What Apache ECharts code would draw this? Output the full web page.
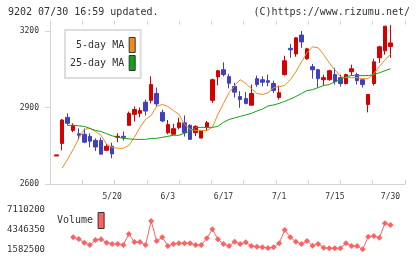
<!DOCTYPE html>
<html>
<head>
<meta charset="utf-8">
<title>9202</title>
<script src="https://cdn.jsdelivr.net/npm/echarts@6.0.0/dist/echarts.min.js"></script>
<style>
html, body { margin: 0; padding: 0; background: #fff; }
#main { width: 420px; height: 259px; }
</style>
</head>
<body>
<div id="main"></div>
<script>
// trading days
var dates = ['5/2','5/7','5/8','5/9','5/12','5/13','5/14','5/15','5/16','5/19',
  '5/20','5/21','5/22','5/23','5/26','5/27','5/28','5/29','5/30','6/2',
  '6/3','6/4','6/5','6/6','6/9','6/10','6/11','6/12','6/13','6/16',
  '6/17','6/18','6/19','6/20','6/23','6/24','6/25','6/26','6/27','6/30',
  '7/1','7/2','7/3','7/4','7/7','7/8','7/9','7/10','7/11','7/14',
  '7/15','7/16','7/17','7/18','7/22','7/23','7/24','7/25','7/28','7/29',
  '7/30'];
var dateTicks = ['5/20', '6/3', '6/17', '7/1', '7/15', '7/30'];

var opens = [2710,2759,2861,2810,2797,2795,2787,2771,2771,2732,
  2748,2783,2787,2830,2873,2877,2921,2928,2955,2881,
  2801,2795,2821,2840,2830,2801,2780,2823,2928,3020,
  3048,3021,2983,2943,2935,2909,3013,3009,3005,2994,
  2939,3029,3132,3110,3184,3091,3060,3048,3009,3009,
  3029,3017,2994,3040,3029,3009,2912,2994,3095,3122,
  3139];
var closes = [2714,2851,2838,2830,2791,2764,2768,2745,2717,2748,
  2718,2787,2783,2877,2892,2888,2886,2990,2914,2847,
  2833,2817,2840,2801,2775,2826,2808,2840,3009,3044,
  3029,2995,2960,2931,2916,2955,2990,2999,2999,2967,
  2958,3083,3126,3173,3157,3130,3048,3013,3017,3044,
  3001,2994,3029,3052,3005,2990,2951,3079,3138,3219,
  3153];
var lows = [2710,2732,2830,2803,2772,2760,2744,2729,2717,2729,
  2701,2764,2771,2830,2845,2861,2869,2916,2904,2842,
  2795,2795,2814,2786,2775,2788,2780,2808,2918,2987,
  3022,2975,2939,2899,2912,2909,2981,2983,2983,2957,
  2931,3025,3095,3099,3134,3087,3013,2978,2986,3005,
  2990,2982,2990,3025,2990,2978,2881,2986,3075,3107,
  3095];
var highs = [2714,2855,2877,2838,2818,2818,2799,2779,2782,2756,
  2762,2799,2806,2884,2904,2900,2931,3022,2978,2892,
  2851,2836,2860,2869,2834,2830,2812,2847,3013,3048,
  3077,3032,2997,2964,2960,2990,3025,3022,3029,3005,
  2986,3103,3149,3176,3200,3134,3071,3052,3029,3048,
  3056,3029,3032,3068,3036,3009,2951,3091,3142,3219,
  3223];

var ma5 = [null,2662,2697,2736,2779,2814,2818,2806,2791,2756,
  2744,2740,2740,2752,2783,2822,2853,2869,2904,2912,
  2904,2888,2873,2834,2814,2810,2810,2810,2822,2873,
  2916,2958,2986,3009,2994,2974,2955,2951,2958,2978,
  2982,2986,3009,3040,3079,3114,3138,3134,3107,3075,
  3048,3021,3017,3017,3017,3013,3013,3032,3060,3087,
  3107];
var ma25 = [null,null,2830,2830,2828,2826,2818,2810,2806,2797,
  2789,2783,2779,2777,2775,2775,2775,2779,2779,2783,
  2787,2791,2791,2799,2806,2822,2822,2822,2822,2826,
  2842,2853,2859,2865,2871,2877,2886,2894,2906,2910,
  2916,2924,2933,2943,2955,2966,2970,2978,2986,2990,
  3001,3009,3021,3025,3025,3025,3025,3029,3036,3044,
  3052];

var volume = [null,null,null,3240800,3005900,2494600,2176700,2867700,2964400,2494600,
  2314900,2314900,2176700,3696800,2591300,2591300,2176700,5493300,2729500,3240800,
  2038500,2314900,2411700,2411700,2411700,2176700,2176700,3102600,4346300,2964400,
  2314900,2038500,2632800,2314900,2549800,2038500,1941800,1858900,1762100,1858900,
  2411700,4249600,3240800,2632800,2314900,2729500,2080000,2314900,1803600,1720700,
  1720700,1720700,2411700,2038500,2038500,1582500,3323700,3420500,3185500,5175500,
  4940600];

var priceTicks = [2600, 2900, 3200];
var volumeTicks = [1582500, 4346350, 7110200];

var font = 'DejaVu Sans Mono';
var axisGrey = '#d4d4d4';
var textGrey = '#333';

var candles = [];
for (var i = 0; i < dates.length; i++) {
    candles.push([opens[i], closes[i], lows[i], highs[i]]);
}

// plain numbers, no thousands separators
function plain(v) { return String(v); }

var chart = echarts.init(document.getElementById('main'));

var option = {
    animation: false,
    backgroundColor: '#fff',
    textStyle: { fontFamily: font },
    title: [
        {
            text: '9202 07/30 16:59 updated.',
            left: 3, top: 2,
            textStyle: { fontFamily: font, fontSize: 10, fontWeight: 'normal', color: textGrey }
        },
        {
            text: '(C)https://www.rizumu.net/',
            right: 5, top: 2,
            textStyle: { fontFamily: font, fontSize: 10, fontWeight: 'normal', color: textGrey }
        }
    ],
    legend: [
        {
            data: ['5-day MA', '25-day MA'],
            orient: 'vertical',
            left: 65, top: 30,
            align: 'right',
            icon: 'rect',
            itemWidth: 6, itemHeight: 15, itemGap: 2,
            padding: [7, 5, 7, 5],
            backgroundColor: '#fff',
            borderColor: '#ddd', borderWidth: 2,
            selectedMode: false,
            textStyle: { fontFamily: font, fontSize: 10, color: textGrey },
            itemStyle: { borderColor: '#333', borderWidth: 1 }
        },
        {
            data: ['Volume'],
            left: 57, top: 212,
            align: 'right',
            icon: 'rect',
            itemWidth: 6, itemHeight: 16,
            padding: 0,
            selectedMode: false,
            textStyle: { fontFamily: font, fontSize: 10, color: textGrey },
            itemStyle: { borderColor: '#333', borderWidth: 1 }
        }
    ],
    grid: [
        { left: 53.72, right: 26.72, top: 24.6, bottom: 75 },   // candles
        { left: 50, right: 15, top: 24.6, bottom: 75 },         // frame
        { left: 53.72, right: 26.72, top: 209.3, bottom: 9.7 }  // volume
    ],
    xAxis: [
        {
            type: 'category', gridIndex: 0, data: dates, boundaryGap: true,
            axisLine: { show: false }, axisTick: { show: false }, splitLine: { show: false },
            axisLabel: {
                interval: function (idx, val) { return dateTicks.indexOf(val) >= 0; },
                margin: 9, fontFamily: font, fontSize: 8, color: textGrey
            }
        },
        {
            type: 'value', gridIndex: 1, min: 0, max: 11, interval: 1,
            axisLine: { show: true, lineStyle: { color: axisGrey } },
            axisTick: { show: true, inside: true, length: 4, lineStyle: { color: axisGrey } },
            axisLabel: { show: false }, splitLine: { show: false }
        },
        {
            type: 'value', gridIndex: 1, min: 0, max: 11, interval: 1,
            axisLine: { show: false },
            axisTick: { show: true, inside: false, length: 4, lineStyle: { color: axisGrey } },
            axisLabel: { show: false }, splitLine: { show: false }
        },
        { type: 'category', gridIndex: 2, data: dates, boundaryGap: true, show: false }
    ],
    yAxis: [
        { type: 'value', gridIndex: 0, min: 2600, max: 3225, show: false },
        {
            type: 'value', gridIndex: 1, min: 2600, max: 3225,
            axisLine: { show: true, lineStyle: { color: axisGrey } },
            axisTick: { show: true, inside: false, length: 5, customValues: priceTicks, lineStyle: { color: axisGrey } },
            axisLabel: { customValues: priceTicks, formatter: plain, margin: 11, fontFamily: font, fontSize: 8, color: textGrey },
            splitLine: { show: false }
        },
        {
            type: 'value', gridIndex: 1, min: 2600, max: 3225,
            axisLine: { show: false },
            axisTick: { show: true, inside: true, length: 5, customValues: priceTicks, lineStyle: { color: axisGrey } },
            axisLabel: { show: false }, splitLine: { show: false }
        },
        {
            type: 'value', gridIndex: 2, min: volumeTicks[0], max: volumeTicks[2],
            axisLine: { show: false }, axisTick: { show: false }, splitLine: { show: false },
            axisLabel: { customValues: volumeTicks, formatter: plain, margin: 8.7, fontFamily: font, fontSize: 9, color: textGrey }
        }
    ],
    series: [
        {
            name: 'candles', type: 'candlestick',
            xAxisIndex: 0, yAxisIndex: 0,
            data: candles,
            barWidth: 4,
            itemStyle: {
                color: '#d40000', color0: '#4040c0',
                borderColor: '#d40000', borderColor0: '#4040c0', borderColorDoji: '#d40000',
                borderWidth: 1
            }
        },
        {
            name: '5-day MA', type: 'line',
            xAxisIndex: 0, yAxisIndex: 0,
            data: ma5, symbol: 'none', color: '#f08c1c',
            lineStyle: { width: 1 }
        },
        {
            name: '25-day MA', type: 'line',
            xAxisIndex: 0, yAxisIndex: 0,
            data: ma25, symbol: 'none', color: '#14a014',
            lineStyle: { width: 1 }
        },
        {
            name: 'Volume', type: 'line',
            xAxisIndex: 3, yAxisIndex: 3,
            data: volume, symbol: 'diamond', symbolSize: 6, showAllSymbol: true,
            color: '#ff6060',
            lineStyle: { width: 1 }
        }
    ]
};

chart.setOption(option);
</script>
</body>
</html>
